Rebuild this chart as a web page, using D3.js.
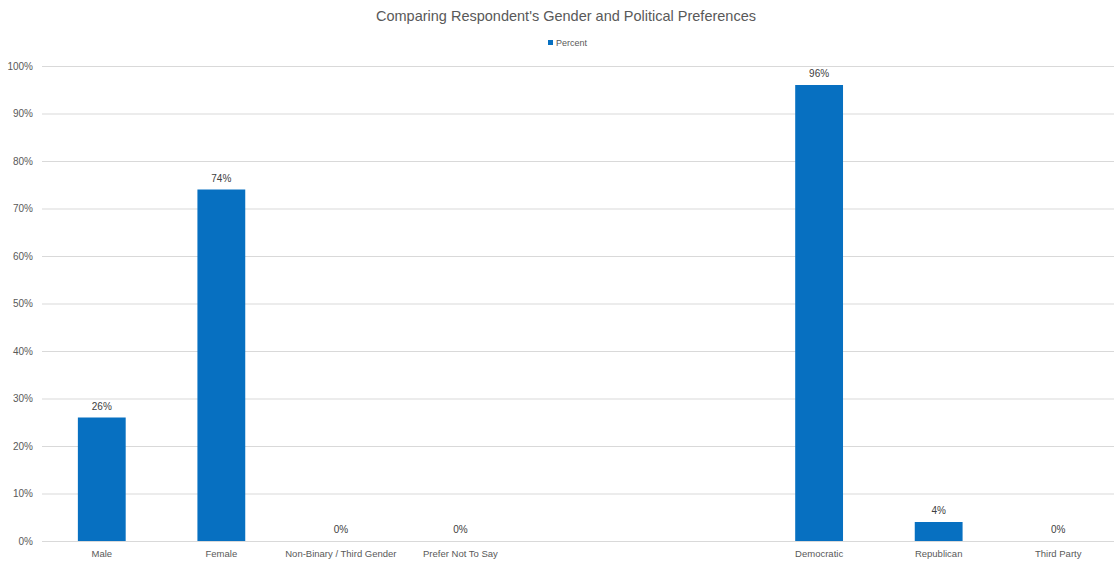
<!DOCTYPE html>
<html>
<head>
<meta charset="utf-8">
<script src="https://cdn.jsdelivr.net/npm/d3@7"></script>
<style>
  html, body { margin: 0; padding: 0; background: #fff; }
  svg { display: block; font-family: "Liberation Sans", Arial, sans-serif; }
</style>
</head>
<body>
<svg id="chart" width="1114" height="561"></svg>
<script>
// Categories on the x axis; the two blank slots separate gender from party.
const categories = ["Male", "Female", "Non-Binary / Third Gender", "Prefer Not To Say", "", " ", "Democratic", "Republican", "Third Party"];
// Share of respondents (percent); null marks an empty slot.
const percents = [26, 74, 0, 0, null, null, 96, 4, 0];
const yTicks = [0, 10, 20, 30, 40, 50, 60, 70, 80, 90, 100];
const seriesName = "Percent";
const title = "Comparing Respondent's Gender and Political Preferences";

const svg = d3.select("#chart");
const margin = { top: 66, right: -4, bottom: 20, left: 42 };
const W = 1114, H = 561;

const x = d3.scaleBand()
  .domain(categories)
  .range([margin.left, W - margin.right])
  .paddingInner(0.6)
  .paddingOuter(0.3);

const y = d3.scaleLinear()
  .domain([0, 100])
  .range([H - margin.bottom, margin.top]);

const barColor = "#0770c1";
const textColor = "#595959";

// Title
svg.append("text")
  .attr("x", 566).attr("y", 21)
  .attr("text-anchor", "middle")
  .attr("font-size", 14.5)
  .attr("fill", textColor)
  .text(title);

// Legend
svg.append("rect")
  .attr("x", 548).attr("y", 40).attr("width", 5).attr("height", 5)
  .attr("fill", barColor);
svg.append("text")
  .attr("x", 556).attr("y", 45.5)
  .attr("font-size", 9)
  .attr("fill", textColor)
  .text(seriesName);

// Gridlines and y labels
const yAxis = d3.axisLeft(y)
  .tickValues(yTicks)
  .tickSize(-(W - margin.left))
  .tickPadding(9)
  .tickFormat(d => d + "%");

const gy = svg.append("g")
  .attr("transform", `translate(${margin.left},0)`)
  .call(yAxis);
gy.select(".domain").remove();
gy.selectAll(".tick line").attr("stroke", "#d9d9d9").attr("stroke-width", 1);
gy.selectAll(".tick text")
  .attr("fill", textColor)
  .attr("font-size", 10)
  .attr("font-family", "Liberation Sans, Arial, sans-serif");

// x labels
const xAxis = d3.axisBottom(x).tickSize(0).tickPadding(9);
const gx = svg.append("g")
  .attr("transform", `translate(0,${y(0)})`)
  .call(xAxis);
gx.select(".domain").remove();
gx.selectAll(".tick text")
  .attr("fill", textColor)
  .attr("font-size", 9.5)
  .attr("font-family", "Liberation Sans, Arial, sans-serif");

const data = categories.map((c, i) => ({ c, v: percents[i] })).filter(d => d.v !== null);

// Bars
svg.append("g").selectAll("rect")
  .data(data)
  .join("rect")
  .attr("x", d => x(d.c))
  .attr("width", x.bandwidth())
  .attr("y", d => y(d.v))
  .attr("height", d => y(0) - y(d.v))
  .attr("fill", barColor);

// Value labels
svg.append("g").selectAll("text")
  .data(data)
  .join("text")
  .attr("x", d => x(d.c) + x.bandwidth() / 2)
  .attr("y", d => y(d.v) - 8)
  .attr("text-anchor", "middle")
  .attr("font-size", 10)
  .attr("fill", "#404040")
  .text(d => d.v + "%");
</script>
</body>
</html>
